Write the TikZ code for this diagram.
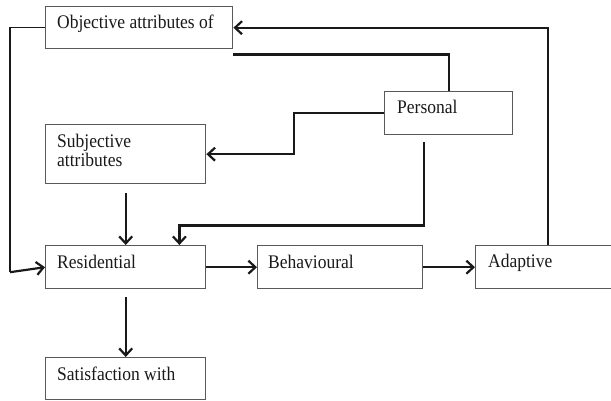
\documentclass[tikz,border=0pt]{standalone}
\usepackage{fontspec}
\usepackage{graphicx}
\setmainfont{Liberation Serif}
\usetikzlibrary{arrows.meta,calc}
\newcommand\vtx[1]{\scalebox{1}[1.1]{#1}}
\begin{document}
\begin{tikzpicture}[x=1pt,y=-1pt,
  box/.style={draw=black!65,line width=1.4pt,rectangle,inner sep=0pt,anchor=north west},
  lbl/.style={anchor=base west,inner sep=0pt,font=\fontsize{17.5}{19}\selectfont,text=black!90},
  conn/.style={draw=black!90,line width=2.2pt},
  arr/.style={conn,-{Straight Barb[length=7pt,width=13pt,line width=2.2pt]}}]
\useasboundingbox (0,0) rectangle (611,400);
\clip (0,0) rectangle (611,400);
\node[box,minimum width=187pt,minimum height=42pt] (obj) at (45,6) {};
\node[box,minimum width=128pt,minimum height=43pt] (pers) at (384,91) {};
\node[box,minimum width=160pt,minimum height=59pt] (subj) at (45,124) {};
\node[box,minimum width=160pt,minimum height=43pt] (res) at (45,245) {};
\node[box,minimum width=165pt,minimum height=43pt] (beh) at (257,245) {};
\node[box,minimum width=150pt,minimum height=43pt] (adap) at (475,245) {};
\node[box,minimum width=160pt,minimum height=42pt] (sat) at (45,357) {};
\node[lbl] (tobj) at ($(obj.north west)+(12,22)$) {\vtx{Objective attributes of}};
\node[lbl] (tpers) at ($(pers.north west)+(13,22)$) {\vtx{Personal}};
\node[lbl] (tsubj1) at ($(subj.north west)+(12,23)$) {\vtx{Subjective}};
\node[lbl] (tsubj2) at ($(subj.north west)+(12,42)$) {\vtx{attributes}};
\node[lbl] (tres) at ($(res.north west)+(12,23)$) {\vtx{Residential}};
\node[lbl] (tbeh) at ($(beh.north west)+(11,23)$) {\vtx{Behavioural}};
\node[lbl] (tadap) at ($(adap.north west)+(13,22)$) {\vtx{Adaptive}};
\node[lbl] (tsat) at ($(sat.north west)+(12,23)$) {\vtx{Satisfaction with}};
\coordinate (objin) at ($(obj.south east)+(0,5)$);
\coordinate (pdown) at ($(pers.south west)+(40,7)$);
\coordinate (sdown) at ($(subj.south)+(0,9)$);
\coordinate (rdown) at ($(res.south)+(0,8)$);
\coordinate (loopL) at ($(obj.west)+(-35,0)$);
\coordinate (loopB) at ($(res.west)+(-35,5)$);
\draw[arr] ($(adap.north west)+(73,0)$) |- (obj.east);
\draw[conn] (pers.north) |- (objin);
\draw[arr] (pers.west) -- ++(-90,0) |- (subj.east);
\draw[arr] (pdown) -- ++(0,83) -| ($(res.north east)+(-27,0)$);
\draw[arr] (sdown) -- (res.north);
\draw[arr] (res.east) -- (beh.west);
\draw[arr] (beh.east) -- (adap.west);
\draw[arr] (rdown) -- (sat.north);
\draw[conn,line width=1.4pt] (obj.west) -- (loopL) -- (loopB);
\draw[arr] (loopB) -- (res.west);
\end{tikzpicture}
\end{document}
